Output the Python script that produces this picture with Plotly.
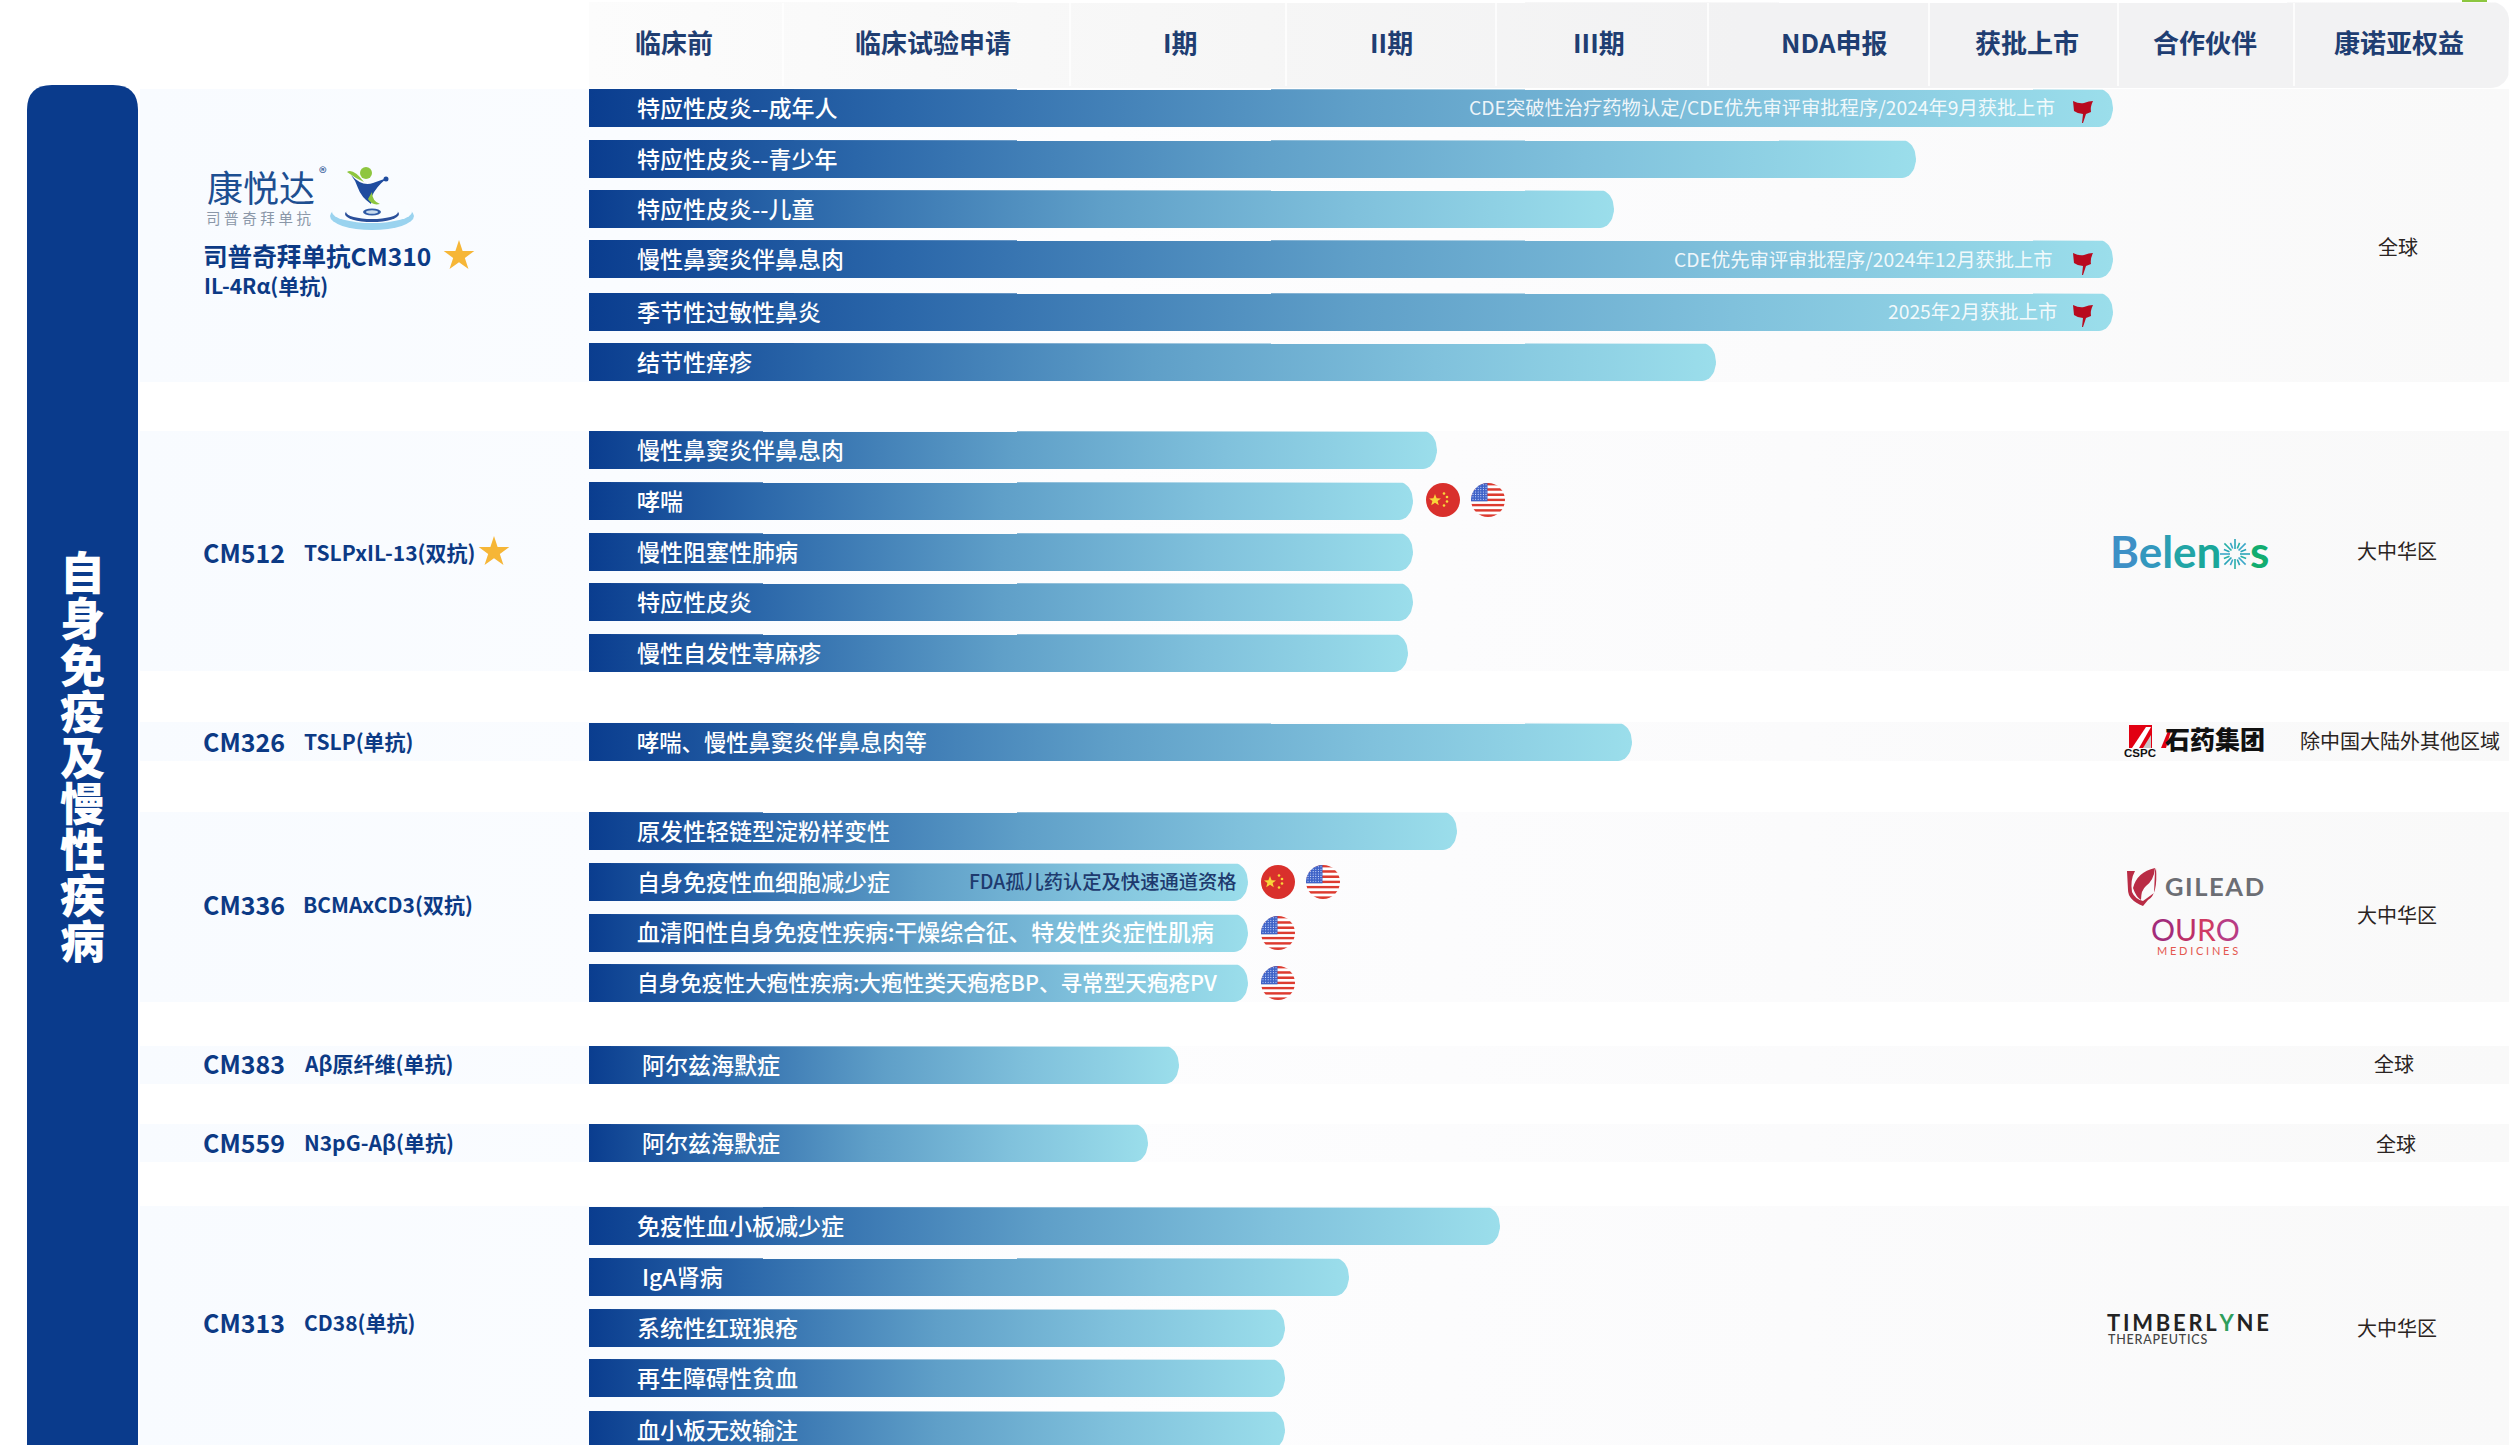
import base64
import math
import plotly.graph_objects as go

W, H = 2509, 1445
CJK = "Noto Sans CJK SC"

# ---------- data ----------
phases = ["临床前", "临床试验申请", "I期", "II期", "III期", "NDA申报", "获批上市", "合作伙伴", "康诺亚权益"]
phase_x = [674, 933, 1180, 1391, 1599, 1834, 2027, 2205, 2399]
phase_seps = [783, 1070, 1286, 1496, 1708, 1929, 2118, 2294]

bar_labels = [
    "特应性皮炎--成年人", "特应性皮炎--青少年", "特应性皮炎--儿童", "慢性鼻窦炎伴鼻息肉", "季节性过敏性鼻炎", "结节性痒疹",
    "慢性鼻窦炎伴鼻息肉", "哮喘", "慢性阻塞性肺病", "特应性皮炎", "慢性自发性荨麻疹",
    "哮喘、慢性鼻窦炎伴鼻息肉等",
    "原发性轻链型淀粉样变性", "自身免疫性血细胞减少症", "血清阳性自身免疫性疾病:干燥综合征、特发性炎症性肌病", "自身免疫性大疱性疾病:大疱性类天疱疮BP、寻常型天疱疮PV",
    "阿尔兹海默症", "阿尔兹海默症",
    "免疫性血小板减少症", "IgA肾病", "系统性红斑狼疮", "再生障碍性贫血", "血小板无效输注",
]
bar_rows = [108, 159, 209, 259, 312, 362, 450, 501, 552, 602, 653, 742, 831, 882, 933, 983, 1065, 1143, 1226, 1277, 1328, 1378, 1430]
bar_ends = [2113, 1916, 1614, 2113, 2113, 1716, 1437, 1413, 1413, 1413, 1408, 1632, 1457, 1248, 1248, 1248, 1179, 1148, 1500, 1349, 1285, 1285, 1285]
bar_label_x = [637] * 16 + [642, 642, 637, 642, 637, 637, 637]
bar_label_size = [23] * 11 + [22.3] + [23] * 2 + [22.8, 21.6] + [23] * 7

notes = ["CDE突破性治疗药物认定/CDE优先审评审批程序/2024年9月获批上市", "CDE优先审评审批程序/2024年12月获批上市", "2025年2月获批上市"]
note_rows = [107, 259, 311]
note_ends = [2055, 2053, 2057]

band_tops = [89, 431, 722, 812, 1046, 1124, 1206]
band_bots = [382, 671, 761, 1002, 1084, 1162, 1445]

drug_codes = ["司普奇拜单抗CM310", "CM512", "CM326", "CM336", "CM383", "CM559", "CM313"]
drug_rows = [255, 552, 741, 904, 1063, 1142, 1322]
drug_sizes = [24.6, 25, 25, 25, 25, 25, 25]
targets = ["IL-4Rα(单抗)", "TSLPxIL-13(双抗)", "TSLP(单抗)", "BCMAxCD3(双抗)", "Aβ原纤维(单抗)", "N3pG-Aβ(单抗)", "CD38(单抗)"]
target_x = [204, 304, 304, 303, 304, 304, 304]
target_rows = [285, 552, 741, 904, 1063, 1142, 1322]

rights = ["全球", "大中华区", "除中国大陆外其他区域", "大中华区", "全球", "全球", "大中华区"]
right_x = [2398, 2397, 2400, 2397, 2394, 2396, 2397]
right_rows = [246, 550, 740, 914, 1063, 1143, 1327]

side_title = "自身免疫及慢性疾病"
side_rows = [570, 616, 663, 709, 755, 801, 847, 893, 939]

star_x = [459, 494]
star_y = [256, 552]

flag_x = [1443, 1488, 1278, 1323, 1278, 1278]
flag_y = [500, 500, 882, 882, 933, 983]
flag_kind = ["cn", "us", "cn", "us", "us", "us"]

BAR_H = 38
GRAD = [[0, "#0a3d8f"], [0.2, "#2a66a9"], [0.5, "#5f9fc8"], [0.75, "#80c1dc"], [1, "#9bdeeb"]]

fig = go.Figure()

def rounded_right(x0, x1, y0, y1, rx, ry):
    xs, ys = [x0, x1 - rx], [y0, y0]
    for i in range(0, 13):
        a = -math.pi / 2 + math.pi / 2 * i / 12
        xs.append(x1 - rx + rx * math.cos(a)); ys.append(y0 + ry + ry * math.sin(a))
    for i in range(0, 13):
        a = math.pi / 2 * i / 12
        xs.append(x1 - rx + rx * math.cos(a)); ys.append(y1 - ry + ry * math.sin(a))
    xs += [x0, x0]; ys += [y1, y0]
    return xs, ys

def poly(xs, ys, scale, start, stop):
    fig.add_trace(go.Scatter(
        x=xs, y=ys, mode="lines", fill="toself", line=dict(width=0),
        fillgradient=dict(type="horizontal", colorscale=scale, start=start, stop=stop),
        hoverinfo="skip", showlegend=False))

# row bands
BAND = [[0, "#f8fbff"], [0.2, "#fafcff"], [0.4, "#fdfdfe"], [0.7, "#fbfbfc"], [1, "#f9f9f9"]]
for t, b in zip(band_tops, band_bots):
    poly([140, W, W, 140, 140], [t, t, b, b, t], BAND, 140, W)

# header
hx, hy = rounded_right(589, W, 2, 88, 18, 18)
poly(hx, hy, [[0, "#fcfcfc"], [0.35, "#f6f6f6"], [0.6, "#f2f2f3"], [1, "#f2f2f3"]], 589, W)

# progress bars
for row, end in zip(bar_rows, bar_ends):
    bx, by = rounded_right(589, end, row - BAR_H / 2, row + BAR_H / 2, 14, BAR_H / 2)
    poly(bx, by, GRAD, 589, end)

# stars
fig.add_trace(go.Scatter(x=star_x, y=star_y, mode="markers",
                         marker=dict(symbol="star", size=23, color="#f6b637", line=dict(width=0)),
                         hoverinfo="skip", showlegend=False))

shapes, ann, imgs = [], [], []

def text(x, y, s, size, color, anchor="left", weight=400, family=CJK):
    ann.append(dict(x=x, y=y, xref="x", yref="y", text=s, showarrow=False, xanchor=anchor, yanchor="middle",
                    font=dict(family=family, size=size, color=color, weight=weight),
                    borderpad=0, borderwidth=0))

def path(d, fill, line=None, lw=0):
    shapes.append(dict(type="path", path=d, xref="x", yref="y", fillcolor=fill, layer="above",
                       line=dict(color=line or "rgba(0,0,0,0)", width=lw)))

def ell(cx, cy, rx, ry, fill):
    shapes.append(dict(type="circle", xref="x", yref="y", x0=cx - rx, x1=cx + rx, y0=cy - ry, y1=cy + ry,
                       fillcolor=fill, line=dict(width=0), layer="above"))

# side panel
path("M27,1445 L27,110 Q27,85 52,85 L113,85 Q138,85 138,110 L138,1445 Z", "#0a3b8c")
for ch, y in zip(side_title, side_rows):
    text(82.5, y, ch, 45, "#ffffff", "center", 900)

# header
for x in phase_seps:
    shapes.append(dict(type="line", xref="x", yref="y", x0=x, x1=x, y0=3, y1=86,
                       line=dict(color="#ffffff", width=1.5), layer="above"))
for p, x in zip(phases, phase_x):
    text(x, 41, p, 26, "#1f3e72", "center", 700)
shapes.append(dict(type="rect", xref="x", yref="y", x0=2462, x1=2487, y0=0, y1=2,
                   fillcolor="#8cc63f", line=dict(width=0), layer="above"))

# bar labels
for lab, row, x, sz in zip(bar_labels, bar_rows, bar_label_x, bar_label_size):
    text(x, row - 1.5, lab, sz, "#ffffff", "left", 500)
for n, row, e in zip(notes, note_rows, note_ends):
    text(e, row, n, 19.3, "rgba(255,255,255,0.9)", "right", 400)
text(1237, 881, "FDA孤儿药认定及快速通道资格", 19.3, "#1e3a6e", "right", 500)

# red flags
for row in note_rows:
    cy = row + 3
    path(f"M2073,{cy-9} Q2079,{cy-6} 2084,{cy-7} Q2089,{cy-9} 2093,{cy-9} Q2090,{cy-3} 2091,{cy+2} L2086,{cy+4} "
         f"L2083,{cy+13} L2082,{cy+13} L2083,{cy+4} Q2078,{cy+4} 2074,{cy+1} Z", "#b80a1e")

# drug names
for d, y, sz in zip(drug_codes, drug_rows, drug_sizes):
    text(203, y, d, sz, "#0c3a85", "left", 700)
for t, x, y in zip(targets, target_x, target_rows):
    text(x, y, t, 21, "#0c3a85", "left", 700)

# rights
for r, x, y in zip(rights, right_x, right_rows):
    text(x, y, r, 20, "#2a2422", "center", 400)

# flag images (no text inside)
def cn_svg():
    s = ('<svg xmlns="http://www.w3.org/2000/svg" viewBox="0 0 34 34"><circle cx="17" cy="17" r="17" fill="#d9302c"/>'
         '<polygon fill="#f8d63a" points="9,11 10.6,15.2 15,15.4 11.6,18 12.8,22.2 9,19.8 5.2,22.2 6.4,18 3,15.4 7.4,15.2"/>'
         '<circle cx="18" cy="10.5" r="1.3" fill="#f8d63a"/><circle cx="21" cy="14" r="1.3" fill="#f8d63a"/>'
         '<circle cx="21" cy="18.5" r="1.3" fill="#f8d63a"/><circle cx="18" cy="22.5" r="1.3" fill="#f8d63a"/></svg>')
    return s

def us_svg():
    stripes = "".join(f'<rect x="0" y="{i*34/13:.2f}" width="34" height="{34/13:.2f}" fill="{"#dd3b2f" if i%2==0 else "#ffffff"}"/>' for i in range(13))
    dots = "".join(f'<circle cx="{2+c*2.6:.1f}" cy="{1.8+r*2.4:.1f}" r="0.55" fill="#dfe8ff"/>' for r in range(7) for c in range(6))
    return ('<svg xmlns="http://www.w3.org/2000/svg" viewBox="0 0 34 34"><defs><clipPath id="c"><circle cx="17" cy="17" r="17"/></clipPath></defs>'
            f'<g clip-path="url(#c)">{stripes}<rect width="16.5" height="18.3" fill="#3f63c8"/>{dots}</g></svg>')

def uri(s):
    return "data:image/svg+xml;base64," + base64.b64encode(s.encode()).decode()

FLAGS = {"cn": uri(cn_svg()), "us": uri(us_svg())}
for x, y, k in zip(flag_x, flag_y, flag_kind):
    imgs.append(dict(source=FLAGS[k], xref="x", yref="y", x=x, y=y, sizex=34, sizey=34, xanchor="center",
                     yanchor="middle", sizing="stretch", layer="above"))

# ---------- logos ----------
BG = "#f9fcff"
text(207, 186, "康悦达", 36, "#1d4f91", "left", 400)
text(319, 172, "®", 16, "#1d4f91", "left", 400)
text(206, 217, "\u2005".join("司普奇拜单抗"), 14.5, "#8a97a8", "left", 400)
ell(372, 216, 42, 14, "#9ad3ef")
ell(372, 212, 40, 11, BG)
ell(372, 214, 27, 8, "#2a4f9a")
ell(372, 212, 26, 7, BG)
ell(372, 212, 9, 3.5, "#2f5aa5")
ell(372, 212, 6, 1.8, "#c8dbee")
path("M351,175 Q362,187 373,183 L387,178 Q376,187 372,196 L371,204 Q361,197 358,188 Q356,181 351,175 Z", "#1f4c9f")
path("M347,172 Q353,168 364,182 Q355,178 347,172 Z", "#8ec63f")
path("M372,192 Q372,201 380,204 Q372,206 368,199 Z", "#8ec63f")
ell(366, 173, 6, 6, "#8ec63f")
ell(386, 179, 2.5, 2.5, "#1f4c9f")

belen = [("B", "#3d90c6"), ("e", "#3398be"), ("l", "#2b9fb3"), ("e", "#22a5a6"), ("n", "#1aa79a")]
text(2110, 551, "".join(f'<span style="color:{c}">{ch}</span>' for ch, c in belen), 44, "#000", "left", 700, "Lato")
for i in range(16):
    a = 2 * math.pi * i / 16
    r0, r1 = (5, 15) if i % 2 == 0 else (6, 12)
    c = ["#2aa5b8", "#27b0a6", "#3aa7c8"][i % 3]
    shapes.append(dict(type="line", xref="x", yref="y", x0=2235 + r0 * math.cos(a), y0=554 + r0 * math.sin(a),
                       x1=2235 + r1 * math.cos(a), y1=554 + r1 * math.sin(a), line=dict(color=c, width=1.6), layer="above"))
text(2250, 551, "s", 44, "#12ad70", "left", 700, "Lato")

# CSPC
path("M2129,725 L2152,725 L2152,748 L2129,748 Z", "#e20012")
path("M2146,727 L2151,727 L2139,748 L2132,748 Z", "#ffffff")
path("M2151,735 L2151,748 L2143,748 Z", "#c8c8c8")
text(2140, 753, "CSPC", 11.5, "#111111", "center", 700, "Liberation Sans")
path("M2161,748 L2168,731 L2171,731 L2166,748 Z", "#e20012")
text(2165, 738, "石药集团", 25, "#111111", "left", 900)

# Gilead / Ouro
path("M2127,871 L2135,871 Q2130,880 2132,892 Q2135,899 2143,901 L2154,893 L2155,871 L2156,868 Q2158,895 2148,900 L2143,906 Q2128,900 2128,890 Z", "#b92c45")
path("M2155,868 Q2137,872 2133,888 Q2136,897 2141,900 Q2141,890 2146,886 Q2154,880 2155,868 Z", "#b92c45")
text(2165, 886, "\u200a".join("GILEAD"), 25.5, "#6c6e74", "left", 700, "Lato")
ouro = [("O", "#a32c7a"), ("U", "#bd3068"), ("R", "#cf3b63"), ("O", "#b83c84")]
text(2151, 929, "".join(f'<span style="color:{c}">{ch}</span>' for ch, c in ouro), 30, "#000", "left", 400, "Lato")
text(2197, 950, "\u2005".join("MEDICINES"), 11, "#e4574e", "center", 400, "Lato")

# Timberlyne
t = "\u2009".join("TIMBERL") + '\u2009<span style="color:#2e9e5b">Y</span>\u2009' + "\u2009".join("NE")
text(2107, 1322, t, 22, "#232323", "left", 700, "Lato")
text(2108, 1339, "\u200a".join("THERAPEUTICS"), 12.5, "#444444", "left", 500, "Lato")

fig.update_layout(
    width=W, height=H, margin=dict(l=0, r=0, t=0, b=0), autosize=False,
    paper_bgcolor="#ffffff", plot_bgcolor="#ffffff",
    xaxis=dict(range=[0, W], visible=False, fixedrange=True),
    yaxis=dict(range=[H, 0], visible=False, fixedrange=True),
    shapes=shapes, annotations=ann, images=imgs, showlegend=False,
)
fig.write_html("out.html", config={"displayModeBar": False},
               post_script="document.body.style.margin='0';document.documentElement.style.overflow='hidden';")
